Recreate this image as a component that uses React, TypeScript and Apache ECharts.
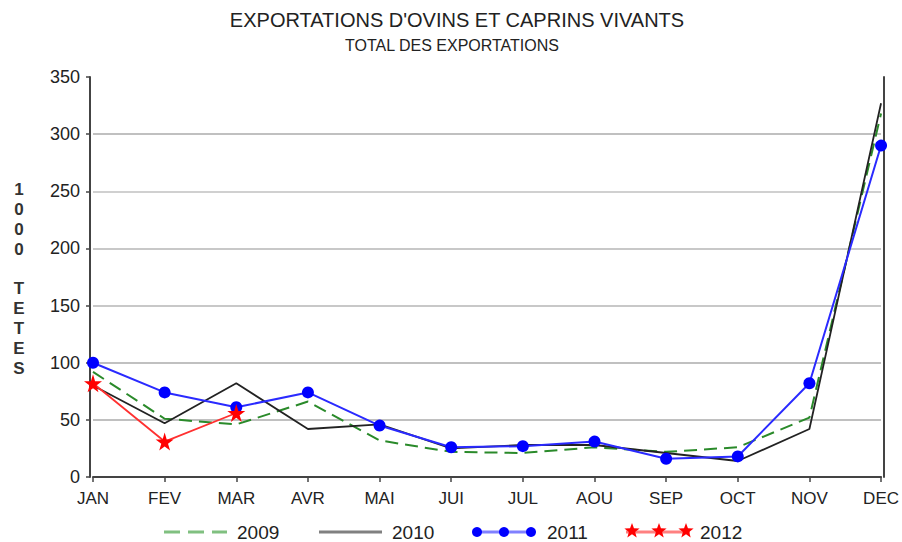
import React, { useEffect, useRef } from "react";
import * as echarts from "echarts";

const months = ["JAN", "FEV", "MAR", "AVR", "MAI", "JUI", "JUL", "AOU", "SEP", "OCT", "NOV", "DEC"];
const data2009 = [92, 51, 46, 66, 32, 22, 21, 26, 22, 26, 52, 318];
const data2010 = [80, 47, 82, 42, 46, 25, 28, 28, 21, 14, 42, 327];
const data2011 = [100, 74, 61, 74, 45, 26, 27, 31, 16, 18, 82, 290];
const data2012 = [82, 31, 56];
const yTicks = [0, 50, 100, 150, 200, 250, 300, 350];

const title = "EXPORTATIONS D'OVINS ET CAPRINS VIVANTS";
const subtitle = "TOTAL DES EXPORTATIONS";
const yName = "1000 TETES";

const FONT = "'Liberation Sans', Arial, sans-serif";
const STAR = "path://M50,0 L61,35 L98,35 L68,57 L79,91 L50,70 L21,91 L32,57 L2,35 L39,35 Z";

function starPoints(cx: number, cy: number, R: number, r: number) {
  const pts: number[][] = [];
  for (let i = 0; i < 10; i++) {
    const a = -Math.PI / 2 + (i * Math.PI) / 5;
    const rad = i % 2 === 0 ? R : r;
    pts.push([cx + rad * Math.cos(a), cy + rad * Math.sin(a)]);
  }
  return pts;
}

export default function App() {
  const ref = useRef<HTMLDivElement>(null);
  useEffect(() => {
    if (!ref.current) return;
    const chart = echarts.init(ref.current, undefined, { renderer: "svg" });
    const ly = 532;
    const legendFont = { fontSize: 19, fontFamily: FONT, fill: "#222" };
    const graphic: any[] = [
      { type: "text", x: 457, y: 20, style: { text: title, fontSize: 20, fontFamily: FONT, fill: "#222", textAlign: "center", textVerticalAlign: "middle" } },
      { type: "text", x: 452, y: 45, style: { text: subtitle, fontSize: 16, fontFamily: FONT, fill: "#222", textAlign: "center", textVerticalAlign: "middle" } },
      { type: "text", x: 19, y: 279, style: { text: yName.split("").join("\n"), fontSize: 17, fontWeight: "bold", lineHeight: 19.8, fontFamily: FONT, fill: "#333", textAlign: "center", textVerticalAlign: "middle" } },
      // legend 2009
      { type: "line", shape: { x1: 164, y1: ly, x2: 227, y2: ly }, style: { stroke: "#80c080", lineWidth: 3, lineDash: [16, 8] } },
      { type: "text", x: 237, y: ly, style: { text: "2009", ...legendFont, textVerticalAlign: "middle" } },
      // legend 2010
      { type: "line", shape: { x1: 319, y1: ly, x2: 382, y2: ly }, style: { stroke: "#808080", lineWidth: 3 } },
      { type: "text", x: 392, y: ly, style: { text: "2010", ...legendFont, textVerticalAlign: "middle" } },
      // legend 2011
      { type: "line", shape: { x1: 477, y1: ly, x2: 531, y2: ly }, style: { stroke: "#8080ff", lineWidth: 3 } },
      ...[477, 504, 531].map((cx) => ({ type: "circle", shape: { cx, cy: ly, r: 5 }, style: { fill: "#0000ff" } })),
      { type: "text", x: 547, y: ly, style: { text: "2011", ...legendFont, textVerticalAlign: "middle" } },
      // legend 2012
      { type: "line", shape: { x1: 626, y1: ly, x2: 690, y2: ly }, style: { stroke: "#ff8080", lineWidth: 3 } },
      ...[632, 659, 686].map((cx) => ({ type: "polygon", shape: { points: starPoints(cx, ly - 1, 8, 3.3) }, style: { fill: "#ff0000" } })),
      { type: "text", x: 700, y: ly, style: { text: "2012", ...legendFont, textVerticalAlign: "middle" } },
    ];

    chart.setOption({
      animation: false,
      backgroundColor: "#ffffff",
      grid: { left: 93, right: 17, top: 77, bottom: 65, containLabel: false },
      xAxis: {
        type: "category",
        data: months,
        boundaryGap: false,
        offset: 3,
        axisLine: { show: true, lineStyle: { color: "#444", width: 2 } },
        axisTick: { show: true, length: 5, alignWithLabel: true, lineStyle: { color: "#444", width: 1.5 } },
        axisLabel: { color: "#222", fontSize: 17, fontFamily: FONT, margin: 10 },
        splitLine: { show: false },
      },
      yAxis: [
        {
          type: "value",
          min: 0,
          max: 350,
          interval: 50,
          offset: 3,
          axisLine: { show: true, lineStyle: { color: "#444", width: 2 } },
          axisTick: { show: true, length: 4, lineStyle: { color: "#444", width: 1.5 } },
          axisLabel: {
            color: "#222",
            fontSize: 18,
            fontFamily: FONT,
            margin: 10,
            formatter: (v: number) => (yTicks.includes(v) ? String(v) : ""),
          },
          splitLine: {
            show: true,
            lineStyle: {
              color: ["transparent", "#c0c0c0", "#c0c0c0", "#c8c8c8", "#c8c8c8", "#d0d0d0", "#c0c0c0", "transparent"],
              width: 2,
            },
          },
        },
        {
          type: "value",
          min: 0,
          max: 350,
          interval: 50,
          position: "right",
          offset: 3,
          axisLine: { show: true, lineStyle: { color: "#444", width: 2 } },
          axisTick: { show: false },
          axisLabel: { show: false },
          splitLine: { show: false },
        },
      ],
      series: [
        {
          name: "2009",
          type: "line",
          data: data2009,
          symbol: "none",
          lineStyle: { color: "#2a8a2a", width: 2, type: [13, 7] },
          itemStyle: { color: "#2a8a2a" },
        },
        {
          name: "2010",
          type: "line",
          data: data2010,
          symbol: "none",
          lineStyle: { color: "#222222", width: 1.8 },
          itemStyle: { color: "#222222" },
        },
        {
          name: "2011",
          type: "line",
          data: data2011,
          symbol: "circle",
          symbolSize: 12,
          lineStyle: { color: "#2a2aff", width: 2 },
          itemStyle: { color: "#0000ff" },
        },
        {
          name: "2012",
          type: "line",
          data: data2012,
          symbol: STAR,
          symbolSize: 18,
          lineStyle: { color: "#ff3030", width: 1.8 },
          itemStyle: { color: "#ff0000" },
        },
      ],
      graphic,
    });
    return () => chart.dispose();
  }, []);
  return <div ref={ref} style={{ width: 902, height: 542, position: "absolute", left: 0, top: 0 }} />;
}
